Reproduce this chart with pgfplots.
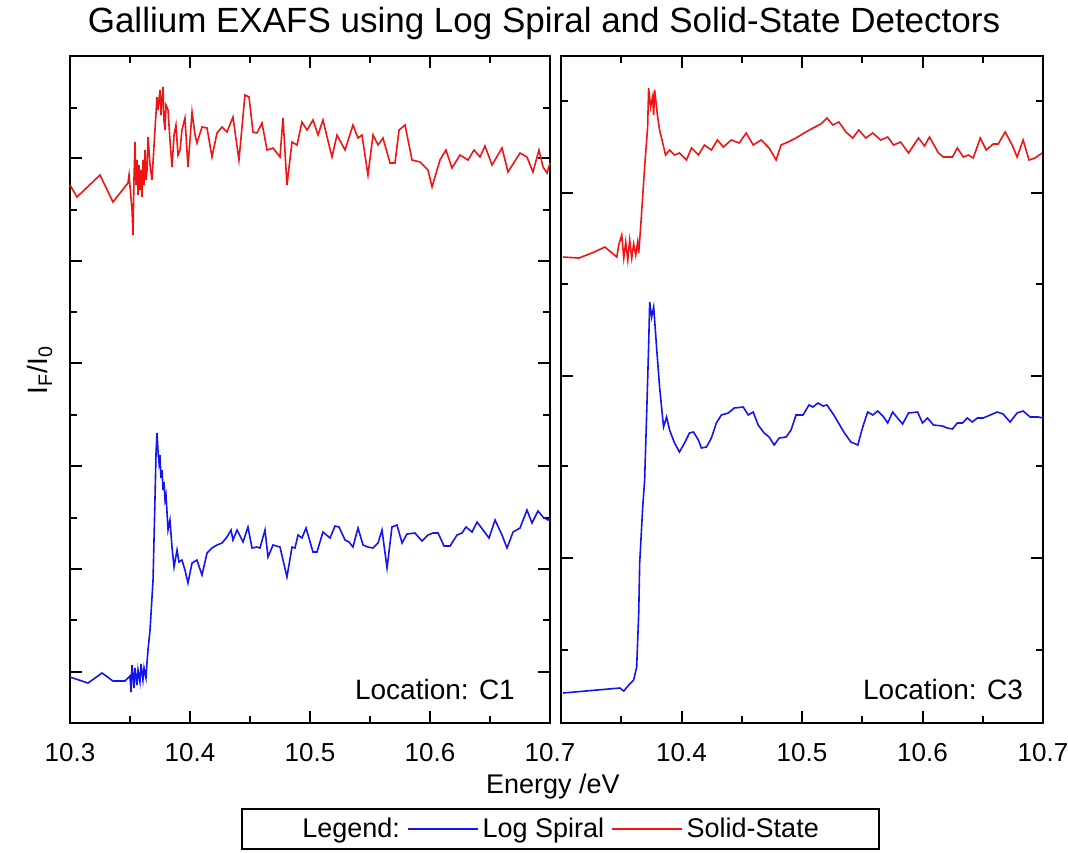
\documentclass[border=0pt]{standalone}
\usepackage{pgfplots}
\pgfplotsset{compat=1.18}
\usepackage{fontspec}
\setmainfont{Liberation Sans}
\definecolor{lsblue}{RGB}{20,20,240}
\definecolor{ssred}{RGB}{240,20,20}
\pgfplotsset{
  exafs/.style={
    scale only axis,
    height=333.7pt,
    xmin=10.3, xmax=10.7, ymin=0, ymax=6.674,
    xtick={10.3,10.4,10.5,10.6,10.7},
    minor xtick={10.35,10.45,10.55,10.65},
    yticklabels={},
    axis line style={line width=1pt},
    every tick/.style={black, line width=1pt},
    major tick length=6pt, minor tick length=3.5pt,
    tick align=inside,
    /pgf/number format/assume math mode=true,
    /pgf/number format/.cd, fixed, fixed zerofill, precision=1,
    /pgfplots/.cd,
    xticklabel style={font=\fontsize{13}{15}\selectfont, yshift=-6.5pt},
    every axis plot/.append style={line width=0.8pt, no markers},
    clip=false,
  }
}
\begin{document}
\begin{tikzpicture}
\path[use as bounding box] (0pt,0pt) rectangle (534pt,-426pt);
% ---------------- left panel ----------------
\begin{axis}[exafs,
  at={(35pt,-361.5pt)}, anchor=south west, width=240pt,
  ytick={0.51,1.54,2.57,3.60,4.62,5.65},
  minor ytick={1.03,2.05,3.085,4.11,5.13,6.15},
  legend columns=3,
  legend style={at={(1.022,-0.159)}, anchor=center, draw=black, line width=1pt,
    font=\fontsize{13.5}{16}\selectfont, inner xsep=28pt, inner ysep=2.5pt,
    /tikz/every even column/.append style={column sep=1.5pt}},
  legend image code/.code={\draw[#1,line width=0.8pt] (0pt,0pt) -- (35pt,0pt);},
]
\addlegendimage{empty legend}\addlegendentry{Legend:}
\addplot[lsblue] coordinates {
(10.3000,0.46)(10.3150,0.40)(10.3267,0.50)(10.3358,0.42)(10.3458,0.42)(10.3500,0.47)
(10.3508,0.31)(10.3517,0.58)(10.3533,0.35)(10.3542,0.55)(10.3558,0.38)(10.3567,0.53)
(10.3583,0.41)(10.3592,0.59)(10.3608,0.43)(10.3617,0.55)(10.3633,0.45)(10.3642,0.61)
(10.3650,0.73)(10.3667,0.93)(10.3692,1.43)(10.3708,2.23)(10.3717,2.70)(10.3725,2.90)
(10.3733,2.73)(10.3742,2.60)(10.3750,2.68)(10.3758,2.45)(10.3767,2.53)(10.3775,2.33)
(10.3783,2.41)(10.3792,2.23)(10.3800,2.28)(10.3817,1.93)(10.3833,2.03)(10.3850,1.76)
(10.3867,1.56)(10.3892,1.73)(10.3908,1.61)(10.3933,1.63)(10.3958,1.53)(10.3983,1.40)
(10.4017,1.60)(10.4058,1.63)(10.4100,1.48)(10.4142,1.70)(10.4183,1.75)(10.4225,1.78)
(10.4267,1.80)(10.4308,1.86)(10.4342,1.93)(10.4358,1.83)(10.4392,1.93)(10.4442,1.81)
(10.4483,1.96)(10.4517,1.75)(10.4558,1.76)(10.4583,1.75)(10.4625,1.93)(10.4650,1.66)
(10.4692,1.78)(10.4750,1.76)(10.4808,1.46)(10.4850,1.76)(10.4875,1.75)(10.4900,1.88)
(10.4933,1.85)(10.4967,1.95)(10.5025,1.71)(10.5058,1.71)(10.5108,1.91)(10.5167,1.85)
(10.5208,1.97)(10.5242,1.96)(10.5292,1.83)(10.5325,1.81)(10.5358,1.76)(10.5400,1.95)
(10.5442,1.78)(10.5483,1.76)(10.5525,1.75)(10.5567,1.80)(10.5600,1.93)(10.5642,1.55)
(10.5683,1.96)(10.5725,1.98)(10.5767,1.80)(10.5808,1.89)(10.5875,1.90)(10.5933,1.82)
(10.5983,1.88)(10.6025,1.90)(10.6067,1.90)(10.6117,1.77)(10.6167,1.77)(10.6225,1.88)
(10.6267,1.90)(10.6300,1.96)(10.6350,1.91)(10.6392,2.01)(10.6442,1.93)(10.6492,1.85)
(10.6542,2.03)(10.6600,1.88)(10.6642,1.75)(10.6692,1.91)(10.6750,1.95)(10.6808,2.13)
(10.6850,2.00)(10.6900,2.12)(10.6942,2.06)(10.6983,2.03)(10.7000,2.05)
};
\addlegendentry{Log Spiral}
\addplot[ssred] coordinates {
(10.3000,5.38)(10.3058,5.26)(10.3250,5.48)(10.3358,5.21)(10.3483,5.40)(10.3492,5.48)
(10.3517,5.13)(10.3525,4.88)(10.3533,5.43)(10.3542,5.81)(10.3550,5.38)(10.3558,5.63)
(10.3567,5.28)(10.3575,5.58)(10.3583,5.33)(10.3592,5.53)(10.3600,5.26)(10.3608,5.63)
(10.3617,5.38)(10.3625,5.73)(10.3633,5.43)(10.3642,5.53)(10.3650,5.86)(10.3667,5.58)
(10.3683,5.43)(10.3708,5.93)(10.3725,6.26)(10.3733,6.13)(10.3750,6.33)(10.3758,6.08)
(10.3775,6.36)(10.3783,6.03)(10.3792,5.93)(10.3800,6.18)(10.3817,6.13)(10.3833,5.83)
(10.3850,5.56)(10.3867,5.88)(10.3883,5.98)(10.3900,5.68)(10.3917,5.73)(10.3933,5.93)
(10.3958,6.05)(10.3983,5.56)(10.4000,5.83)(10.4017,6.11)(10.4042,5.88)(10.4058,5.80)
(10.4100,5.96)(10.4142,5.95)(10.4183,5.66)(10.4225,5.90)(10.4267,5.96)(10.4308,5.91)
(10.4358,6.06)(10.4408,5.63)(10.4458,6.28)(10.4492,6.26)(10.4525,5.91)(10.4558,5.90)
(10.4600,6.00)(10.4642,5.73)(10.4692,5.75)(10.4750,5.66)(10.4775,6.05)(10.4808,5.38)
(10.4850,5.81)(10.4892,5.78)(10.4933,6.01)(10.4975,5.93)(10.5025,6.03)(10.5067,5.88)
(10.5108,6.03)(10.5183,5.66)(10.5225,5.88)(10.5292,5.73)(10.5358,5.98)(10.5400,5.85)
(10.5433,5.88)(10.5483,5.48)(10.5525,5.88)(10.5567,5.78)(10.5608,5.85)(10.5667,5.60)
(10.5708,5.60)(10.5742,5.93)(10.5792,5.98)(10.5850,5.63)(10.5917,5.61)(10.5983,5.53)
(10.6017,5.36)(10.6083,5.63)(10.6133,5.73)(10.6183,5.55)(10.6250,5.68)(10.6317,5.63)
(10.6367,5.73)(10.6417,5.66)(10.6458,5.77)(10.6517,5.58)(10.6600,5.75)(10.6650,5.51)
(10.6750,5.70)(10.6808,5.66)(10.6858,5.51)(10.6908,5.73)(10.6942,5.56)(10.6975,5.50)
(10.7000,5.60)
};
\addlegendentry{Solid-State}
\node[anchor=base east, font=\fontsize{14}{16}\selectfont] at (rel axis cs:0.9415,0.0345) {Location: C1};
\node[font=\fontsize{17.5}{20}\selectfont] at (rel axis cs:0.9875,1.048) {Gallium EXAFS using Log Spiral and Solid-State Detectors};
\node[font=\fontsize{13.5}{16}\selectfont] at (rel axis cs:1.006,-0.095) {Energy /eV};
\node[rotate=90, font=\fontsize{14}{16}\selectfont] at (rel axis cs:-0.0625,0.529) {I\textsubscript{F}/I\textsubscript{0}};
\end{axis}
% ---------------- right panel ----------------
\begin{axis}[exafs,
  at={(280.5pt,-361.5pt)}, anchor=south west, width=241pt,
  xticklabels={,10.4,10.5,10.6,10.7},
  ytick={1.65,3.47,5.30},
  minor ytick={0.73,2.57,4.39,6.22},
]
\addplot[lsblue] coordinates {
(10.3017,0.30)(10.3488,0.35)(10.3521,0.32)(10.3562,0.38)(10.3603,0.43)(10.3628,0.56)
(10.3645,1.10)(10.3653,1.60)(10.3678,2.16)(10.3694,2.43)(10.3711,3.10)(10.3727,3.76)
(10.3736,4.21)(10.3752,4.06)(10.3769,4.16)(10.3777,4.03)(10.3793,3.76)(10.3818,3.36)
(10.3851,2.96)(10.3876,3.06)(10.3901,2.93)(10.3942,2.80)(10.3983,2.71)(10.4025,2.80)
(10.4066,2.90)(10.4099,2.91)(10.4140,2.83)(10.4165,2.75)(10.4207,2.76)(10.4248,2.85)
(10.4289,3.00)(10.4331,3.08)(10.4388,3.10)(10.4438,3.15)(10.4512,3.16)(10.4554,3.08)
(10.4595,3.11)(10.4636,2.98)(10.4686,2.90)(10.4727,2.86)(10.4769,2.78)(10.4810,2.85)
(10.4868,2.86)(10.4909,2.93)(10.4950,3.08)(10.5008,3.08)(10.5058,3.18)(10.5091,3.16)
(10.5132,3.20)(10.5174,3.17)(10.5207,3.18)(10.5264,3.08)(10.5347,2.91)(10.5405,2.81)
(10.5463,2.78)(10.5504,2.96)(10.5545,3.11)(10.5587,3.08)(10.5628,3.12)(10.5678,3.06)
(10.5711,3.00)(10.5752,3.11)(10.5793,3.05)(10.5835,2.99)(10.5884,3.10)(10.5959,3.11)
(10.6000,3.00)(10.6041,3.05)(10.6091,2.98)(10.6165,2.97)(10.6207,2.95)(10.6248,2.94)
(10.6289,3.00)(10.6331,3.00)(10.6372,3.05)(10.6413,3.01)(10.6455,3.05)(10.6504,3.05)
(10.6562,3.08)(10.6620,3.11)(10.6669,3.09)(10.6727,3.01)(10.6785,3.10)(10.6835,3.12)
(10.6893,3.06)(10.6959,3.06)(10.7000,3.05)
};
\addplot[ssred] coordinates {
(10.3017,4.66)(10.3149,4.65)(10.3256,4.70)(10.3364,4.76)(10.3463,4.66)(10.3479,4.78)
(10.3504,4.88)(10.3521,4.65)(10.3537,4.81)(10.3554,4.63)(10.3570,4.83)(10.3587,4.65)
(10.3603,4.79)(10.3620,4.68)(10.3636,4.81)(10.3645,4.70)(10.3661,4.96)(10.3694,5.56)
(10.3719,5.96)(10.3727,6.35)(10.3744,6.16)(10.3760,6.26)(10.3769,6.08)(10.3777,6.33)
(10.3802,6.06)(10.3818,5.93)(10.3868,5.68)(10.3901,5.73)(10.3942,5.68)(10.3983,5.70)
(10.4041,5.63)(10.4083,5.75)(10.4140,5.68)(10.4190,5.78)(10.4248,5.73)(10.4298,5.83)
(10.4347,5.76)(10.4413,5.83)(10.4479,5.80)(10.4537,5.90)(10.4595,5.78)(10.4661,5.83)
(10.4727,5.75)(10.4785,5.63)(10.4826,5.78)(10.4884,5.81)(10.4950,5.85)(10.5017,5.90)
(10.5091,5.95)(10.5157,5.99)(10.5207,6.05)(10.5256,5.98)(10.5306,6.01)(10.5364,5.91)
(10.5421,5.85)(10.5471,5.93)(10.5529,5.85)(10.5587,5.90)(10.5653,5.83)(10.5711,5.86)
(10.5760,5.78)(10.5818,5.81)(10.5884,5.70)(10.5967,5.85)(10.6017,5.77)(10.6058,5.86)
(10.6132,5.70)(10.6174,5.66)(10.6248,5.66)(10.6289,5.75)(10.6339,5.66)(10.6380,5.68)
(10.6421,5.65)(10.6479,5.85)(10.6529,5.73)(10.6587,5.79)(10.6628,5.79)(10.6686,5.91)
(10.6744,5.78)(10.6785,5.66)(10.6835,5.83)(10.6884,5.63)(10.6934,5.65)(10.6992,5.70)
};
\node[anchor=base east, font=\fontsize{14}{16}\selectfont] at (rel axis cs:0.973,0.0345) {Location: C3};
\end{axis}
\end{tikzpicture}
\end{document}
